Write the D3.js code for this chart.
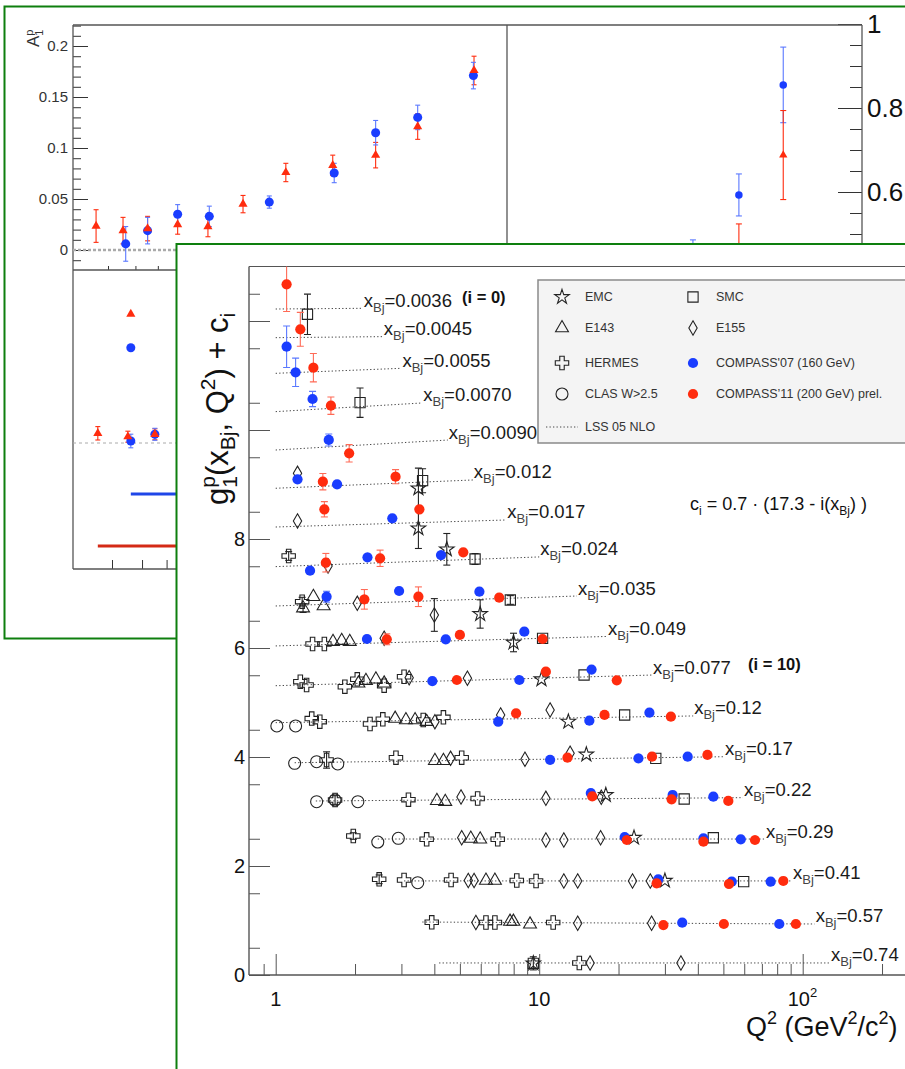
<!DOCTYPE html>
<html>
<head>
<meta charset="utf-8">
<script src="https://cdn.jsdelivr.net/npm/d3@7"></script>
<style>
  body { margin: 0; background: #fff; }
  svg { display: block; }
  text { font-family: "Liberation Sans", Arial, Helvetica, sans-serif; }
</style>
</head>
<body>
<script>
// ---------------- A1p slide (background) ----------------
const a1XRed = [0.00363, 0.00452, 0.00552, 0.00705, 0.00902, 0.0120, 0.0170, 0.0249, 0.0353, 0.0497, 0.0786];
const a1Red = [0.0235, 0.019, 0.021, 0.025, 0.023, 0.045, 0.076, 0.083, 0.093, 0.121, 0.176];
const a1RedErr = [0.016, 0.013, 0.012, 0.0095, 0.010, 0.0085, 0.009, 0.010, 0.0125, 0.0125, 0.014];
const a1XBlue = [0.00462, 0.00552, 0.00705, 0.00912, 0.01486, 0.0252, 0.0353, 0.0497, 0.0782];
const a1Blue = [0.006, 0.019, 0.035, 0.033, 0.047, 0.0755, 0.115, 0.130, 0.171];
const a1BlueErr = [0.017, 0.013, 0.0095, 0.010, 0.006, 0.0095, 0.012, 0.012, 0.013];
const a1Ticks = [0, 0.05, 0.1, 0.15, 0.2];

// high-x part, read on the right-hand scale
const hiXBlue = [0.6, 0.45, 0.334];
const hiBlue = [0.855, 0.593, 0.44];
const hiBlueErr = [0.09, 0.05, 0.046];
const hiXRed = [0.6, 0.45];
const hiRed = [0.688, 0.43];
const hiRedErr = [0.106, 0.094];
const hiTicks = [0.6, 0.8, 1.0];

// lower pad
const lowXRed = [0.0036, 0.0045, 0.0055];
const lowRed = [0.0097, 0.0063, 0.0087];
const lowRedErr = [0.0067, 0.0055, 0.0055];
const lowXBlue = [0.0046, 0.0055];
const lowBlue = [0.002, 0.0087];
const lowBlueErr = [0.0068, 0.006];
const lowPeakX = [0.0046];
const lowPeakRed = [0.129];
const lowPeakBlue = [0.0953];
const lowBandX = [0.0036, 0.0046];      // start of red / blue band line
const lowBandV = [-0.103, -0.051];

// ---------------- g1p world data (foreground) ----------------
const xBjLabels = ["0.0036","0.0045","0.0055","0.0070","0.0090","0.012","0.017","0.024","0.035",
                   "0.049","0.077","0.12","0.17","0.22","0.29","0.41","0.57","0.74"];
// LSS 05 NLO curve per bin: [Q2 start, Q2 end] and g1 at those ends
const lssQ2 = [[1,2.14],[1,2.55],[1,3.0],[1,3.6],[1,4.5],[1,5.6],[1,7.5],[1,10.0],[1,13.9],[1,18.1],
               [1,26.8],[1,38.4],[1.18,50.3],[1.42,59.3],[2.44,71.9],[3.07,91.1],[3.6,111],[4.17,127]];
const lssG1 = [[0.11,0.123],[0.284,0.303],[0.33,0.422],[0.327,0.486],[0.323,0.506],[0.321,0.473],
               [0.31,0.439],[0.283,0.461],[0.261,0.444],[0.228,0.402],[0.198,0.394],[0.22,0.343],
               [0.185,0.295],[0.183,0.244],[0.185,0.185],[0.116,0.116],[0.062,0.026],[0.011,0.011]];

// points: [bin index i, Q2, g1, stat. error]
const compass11 = [[0,1.10,0.564,0.50],[1,1.24,0.438,0.31],[2,1.39,0.433,0.26],[3,1.62,0.436,0.16],
  [4,1.90,0.262,0.16],[5,1.51,0.441,0.15],[5,2.85,0.533,0.13],[6,1.53,0.635,0.14],[6,3.51,0.635,0.05],
  [7,1.55,0.355,0.17],[7,2.49,0.436,0.15],[7,5.15,0.546,0],[8,2.17,0.383,0.18],[8,3.48,0.431,0.18],
  [8,7.05,0.413,0],[9,2.64,0.35,0.1],[9,5.0,0.429,0],[9,10.3,0.355,0],[10,4.87,0.303,0],[10,10.6,0.455,0],
  [10,19.7,0.297,0],[11,8.17,0.392,0],[11,17.7,0.361,0],[11,31.6,0.329,0],[12,12.8,0.277,0],
  [12,26.8,0.296,0],[12,43.5,0.327,0],[13,15.9,0.267,0],[13,31.8,0.214,0],[13,52.2,0.183,0],
  [14,21.5,0.167,0],[14,42,0.136,0],[14,65.9,0.167,0],[15,27.9,0.073,0],[15,52.5,0.06,0],
  [15,84.4,0.115,0],[16,29.6,0.007,0],[16,50.2,0.026,0],[16,94.2,0.026,0]];
const compass07 = [[1,1.10,0.118,0.38],[2,1.19,0.349,0.26],[3,1.38,0.559,0.14],[4,1.59,0.507,0.11],
  [5,1.21,0.485,0.05],[5,1.71,0.394,0],[6,2.77,0.47,0],[7,1.35,0.208,0.05],[7,2.23,0.454,0],
  [7,4.24,0.496,0],[8,1.56,0.431,0.1],[8,2.94,0.536,0],[8,5.93,0.523,0],[9,2.22,0.355,0],
  [9,4.42,0.35,0],[9,8.78,0.489,0],[10,3.93,0.284,0],[10,8.41,0.303,0],[10,15.8,0.494,0],
  [11,6.99,0.238,0],[11,15.5,0.256,0],[11,26.2,0.403,0],[12,11.0,0.239,0],[12,23.8,0.266,0],
  [12,36.6,0.296,0],[13,15.7,0.329,0],[13,32.1,0.293,0],[13,45.8,0.262,0],[14,21.1,0.222,0],
  [14,42,0.198,0],[14,58.2,0.18,0],[15,28.3,0.146,0],[15,53.8,0.102,0],[15,75.6,0.102,0],
  [16,34.9,0.05,0],[16,81.5,0.026,0]];
const emc = [[5,3.48,0.32,0.37],[6,3.48,0.286,0.37],[7,4.46,0.601,0.29],[8,5.97,0.114,0.26],
  [9,7.99,0.291,0.17],[10,10.2,0.316,0],[11,12.9,0.238,0],[12,15.1,0.336,0],[13,17.9,0.293,0],
  [14,22.9,0.209,0],[15,30.0,0.12,0],[17,9.5,0.004,0]];
const smc = [[0,1.32,0.013,0.37],[3,2.09,0.491,0.27],[5,3.61,0.46,0.22],[7,5.71,0.423,0.1],
  [8,7.77,0.371,0.08],[9,10.3,0.368,0],[10,14.8,0.395,0],[11,21.1,0.361,0],[12,27.7,0.266,0],
  [13,35.5,0.219,0],[14,45.8,0.209,0],[15,59.7,0.102,0],[17,9.5,0.004,0.12]];
const e143 = [[8,1.27,0.222,0.08],[8,1.39,0.431,0],[8,1.52,0.261,0],[9,1.65,0.306,0],[9,1.78,0.324,0],
  [9,1.91,0.306,0],[10,2.06,0.242,0],[10,2.20,0.29,0],[10,2.40,0.316,0],[10,2.58,0.242,0],
  [11,2.84,0.295,0],[11,3.12,0.269,0],[11,3.38,0.269,0],[11,3.74,0.238,0],[12,4.02,0.222,0],
  [12,4.33,0.222,0],[13,4.09,0.188,0],[13,4.40,0.17,0],[14,5.5,0.195,0],[14,5.97,0.18,0],
  [15,6.28,0.124,0],[15,6.79,0.124,0],[16,7.75,0.07,0],[16,7.98,0.07,0],[16,9.23,0.02,0]];
const e155 = [[5,1.21,0.595,0],[6,1.21,0.42,0],[7,1.58,0.295,0],[8,2.04,0.31,0],[8,4.0,0.096,0.3],
  [9,2.58,0.369,0],[10,3.21,0.345,0],[10,5.34,0.334,0],[11,4.02,0.238,0],[11,7.14,0.361,0],
  [11,11.0,0.452,0],[12,4.61,0.266,0],[12,8.83,0.248,0],[12,13.1,0.358,0],[13,5.05,0.256,0],
  [13,10.6,0.232,0],[13,17.2,0.251,0],[14,5.08,0.209,0],[14,10.6,0.167,0],[14,12.4,0.167,0],
  [14,17.1,0.209,0],[15,5.38,0.124,0],[15,5.66,0.124,0],[15,12.4,0.115,0],[15,14.0,0.115,0],
  [15,22.6,0.115,0],[15,26.4,0.115,0],[16,5.75,0.053,0],[16,14.0,0.039,0],[16,26.7,0.039,0],
  [17,15.6,0.01,0],[17,34.5,0.01,0]];
const hermes = [[7,1.12,0.478,0.08],[8,1.26,0.34,0.08],[9,1.38,0.263,0],[9,1.53,0.263,0],
  [10,1.24,0.272,0],[10,1.31,0.211,0],[10,1.83,0.18,0],[10,2.04,0.316,0],[10,2.58,0.198,0],
  [10,3.07,0.363,0],[11,1.37,0.295,0],[11,1.47,0.238,0],[11,2.28,0.196,0],[11,2.55,0.282,0],
  [11,3.63,0.269,0],[11,4.33,0.318,0],[12,1.56,0.235,0.15],[12,2.86,0.277,0],[12,5.08,0.277,0],
  [13,1.68,0.201,0.08],[13,3.19,0.207,0],[13,5.84,0.229,0],[14,1.97,0.24,0.06],[14,3.74,0.18,0],
  [14,6.96,0.18,0],[15,2.47,0.146,0.08],[15,3.07,0.133,0],[15,4.63,0.133,0],[15,8.22,0.124,0],
  [15,9.73,0.115,0],[16,3.91,0.057,0],[16,6.28,0.053,0],[16,6.79,0.053,0],[16,11.3,0.053,0],
  [17,14.2,0.01,0]];
const clas = [[11,1.01,0.159,0],[11,1.19,0.159,0],[12,1.18,0.174,0],[12,1.43,0.204,0],[12,1.72,0.162,0],
  [13,1.43,0.17,0],[13,1.68,0.201,0],[13,2.05,0.17,0],[14,2.44,0.13,0],[14,2.92,0.198,0],[15,3.46,0.084,0]];

const xTickMajor = [1, 10, 100];
const yTickLabels = [0, 2, 4, 6, 8];

// ---------------- styling ----------------
const GREEN = "#0e7f0e";
const BLUE = "#1a3dff", RED = "#ff2c0e";
const BLUE_ERR = "#5a78ff", RED_ERR = "#ff6a56";
const INK = "#222";
const FRAME = "#555";

const svg = d3.select("body").append("svg").attr("width", 905).attr("height", 1069);

function line(g, x1, y1, x2, y2, color, w, dash) {
  const l = g.append("line").attr("x1", x1).attr("y1", y1).attr("x2", x2).attr("y2", y2)
    .attr("stroke", color).attr("stroke-width", w);
  if (dash) l.attr("stroke-dasharray", dash);
  return l;
}
function errBar(g, x, y0, y1, color, cap, w) {
  line(g, x, y0, x, y1, color, w || 1.1);
  line(g, x - cap, y0, x + cap, y0, color, w || 1.1);
  line(g, x - cap, y1, x + cap, y1, color, w || 1.1);
}
function cleanAxis(g, color) {
  g.select(".domain").remove();
  g.selectAll(".tick line").attr("stroke", color);
  g.attr("font-size", null).attr("font-family", null);
}

// =============== background slide ===============
const back = svg.append("g");
back.append("rect").attr("x", 4.5).attr("y", 6.5).attr("width", 940).attr("height", 632)
  .attr("fill", "#fff").attr("stroke", GREEN).attr("stroke-width", 2);

// scales of the three pads
const xA = d3.scaleLog().domain([0.004, 0.04]).range([108, 391]);
const yA = d3.scaleLinear().domain([-0.0196, 0.2206]).range([270, 25]);
const xB = d3.scaleLog().domain([0.1, 1]).range([507, 862]);
const yB = d3.scaleLinear().domain([0.4143, 1.0]).range([270, 24]);
const xC = d3.scaleLog().domain([0.004, 0.04]).range([112, 422]);
const yC = d3.scaleLinear().domain([-0.126, 0.173]).range([569, 270]);

back.append("clipPath").attr("id", "clipA").append("rect").attr("x", 73).attr("y", 25).attr("width", 434).attr("height", 245);
back.append("clipPath").attr("id", "clipB").append("rect").attr("x", 507).attr("y", 25).attr("width", 355).attr("height", 245);
back.append("clipPath").attr("id", "clipC").append("rect").attr("x", 73).attr("y", 270).attr("width", 434).attr("height", 299);

// A1 axis (left)
back.append("g").attr("transform", "translate(73,0)")
  .call(d3.axisLeft(yA).tickValues(d3.range(-1, 23).map(i => i / 100)).tickSize(-8).tickFormat(""))
  .call(g => cleanAxis(g, "#333"));
back.append("g").attr("transform", "translate(73,0)")
  .call(d3.axisLeft(yA).tickValues(a1Ticks).tickSize(-15).tickPadding(5).tickFormat(d => d3.format("~g")(d)))
  .call(g => cleanAxis(g, "#333"))
  .call(g => g.selectAll("text").attr("font-size", 15).attr("fill", "#333"));
// bottom ticks of upper and lower pads
back.append("g").attr("transform", "translate(0,270)")
  .call(d3.axisBottom(xA).tickValues([0.004, 0.005, 0.006, 0.007, 0.008, 0.009, 0.01, 0.02, 0.03]).tickSize(-4).tickFormat(""))
  .call(g => cleanAxis(g, "#333"));
back.append("g").attr("transform", "translate(0,569)")
  .call(d3.axisBottom(xC).tickValues([0.004, 0.005, 0.006, 0.007, 0.008, 0.009, 0.01, 0.02]).tickSize(-9).tickFormat(""))
  .call(g => cleanAxis(g, "#333"));
// right-hand axis of the high-x pad
back.append("g").attr("transform", "translate(862,0)")
  .call(d3.axisRight(yB).tickValues(d3.range(9, 21).map(i => i * 0.05)).tickSize(-12).tickFormat(""))
  .call(g => cleanAxis(g, "#333"));
back.append("g").attr("transform", "translate(862,0)")
  .call(d3.axisRight(yB).tickValues(hiTicks).tickSize(-24).tickPadding(5).tickFormat(d => d3.format("~g")(d)))
  .call(g => cleanAxis(g, "#333"))
  .call(g => g.selectAll("text").attr("font-size", 26).attr("fill", "#111"));

// frames
line(back, 73, 25, 862, 25, FRAME, 1.3);
line(back, 73, 25, 73, 569, FRAME, 1.3);
line(back, 73, 270, 507, 270, FRAME, 1.3);
line(back, 507, 25, 507, 270, FRAME, 1.3);
line(back, 862, 25, 862, 270, FRAME, 1.3);
line(back, 73, 569, 507, 569, FRAME, 1.3);

// A1 title
const a1t = back.append("text").attr("transform", "translate(39,47) rotate(-90)").attr("font-size", 17).attr("fill", "#333");
a1t.append("tspan").text("A");
a1t.append("tspan").attr("font-size", 11).attr("dy", -6).text("p");
a1t.append("tspan").attr("font-size", 11).attr("dx", -6.1).attr("dy", 10).text("1");

// zero line
const pA = back.append("g").attr("clip-path", "url(#clipA)");
line(pA, 73, yA(0), 507, yA(0), "#aaa", 2.5, "3,2");
const triA = d3.symbol(d3.symbolTriangle, 36)();
const dotA = d3.symbol(d3.symbolCircle, 64)();
a1XRed.forEach((x, i) => errBar(pA, xA(x), yA(a1Red[i] - a1RedErr[i]), yA(a1Red[i] + a1RedErr[i]), RED, 2.5));
a1XBlue.forEach((x, i) => errBar(pA, xA(x), yA(a1Blue[i] - a1BlueErr[i]), yA(a1Blue[i] + a1BlueErr[i]), BLUE_ERR, 2.5));
pA.selectAll(".a1b").data(a1XBlue).join("path").attr("d", dotA).attr("fill", BLUE)
  .attr("transform", (x, i) => `translate(${xA(x)},${yA(a1Blue[i])})`);
pA.selectAll(".a1r").data(a1XRed).join("path").attr("d", triA).attr("fill", RED)
  .attr("transform", (x, i) => `translate(${xA(x)},${yA(a1Red[i])})`);

const pB = back.append("g").attr("clip-path", "url(#clipB)");
hiXBlue.forEach((x, i) => errBar(pB, xB(x), yB(hiBlue[i] - hiBlueErr[i]), yB(hiBlue[i] + hiBlueErr[i]), BLUE_ERR, 3));
hiXRed.forEach((x, i) => errBar(pB, xB(x), yB(hiRed[i] - hiRedErr[i]), yB(hiRed[i] + hiRedErr[i]), RED, 3));
pB.selectAll(".hb").data(hiXBlue).join("path").attr("d", d3.symbol(d3.symbolCircle, 44)()).attr("fill", BLUE)
  .attr("transform", (x, i) => `translate(${xB(x)},${yB(hiBlue[i])})`);
pB.selectAll(".hr").data(hiXRed).join("path").attr("d", d3.symbol(d3.symbolTriangle, 30)()).attr("fill", RED)
  .attr("transform", (x, i) => `translate(${xB(x)},${yB(hiRed[i])})`);

const pC = back.append("g").attr("clip-path", "url(#clipC)");
line(pC, 73, yC(0), 507, yC(0), "#aaa", 1, "3,3");
line(pC, xC(lowBandX[0]), yC(lowBandV[0]), 507, yC(lowBandV[0]), "#d42a16", 3);
line(pC, xC(lowBandX[1]), yC(lowBandV[1]), 507, yC(lowBandV[1]), "#1f46e8", 3);
lowXRed.forEach((x, i) => errBar(pC, xC(x), yC(lowRed[i] - lowRedErr[i]), yC(lowRed[i] + lowRedErr[i]), RED, 2.5));
lowXBlue.forEach((x, i) => errBar(pC, xC(x), yC(lowBlue[i] - lowBlueErr[i]), yC(lowBlue[i] + lowBlueErr[i]), BLUE_ERR, 2.5));
pC.selectAll(".lb").data(lowXBlue).join("path").attr("d", dotA).attr("fill", BLUE)
  .attr("transform", (x, i) => `translate(${xC(x)},${yC(lowBlue[i])})`);
pC.selectAll(".lr").data(lowXRed).join("path").attr("d", triA).attr("fill", RED)
  .attr("transform", (x, i) => `translate(${xC(x)},${yC(lowRed[i])})`);
pC.selectAll(".pb").data(lowPeakX).join("path").attr("d", dotA).attr("fill", BLUE)
  .attr("transform", (x, i) => `translate(${xC(x)},${yC(lowPeakBlue[i])})`);
pC.selectAll(".pr").data(lowPeakX).join("path").attr("d", triA).attr("fill", RED)
  .attr("transform", (x, i) => `translate(${xC(x)},${yC(lowPeakRed[i])})`);

// =============== foreground slide: g1p world data ===============
const front = svg.append("g");
front.append("rect").attr("x", 176.5).attr("y", 244).attr("width", 800).attr("height", 900)
  .attr("fill", "#fff").attr("stroke", GREEN).attr("stroke-width", 2);

const x = d3.scaleLog().domain([1, 100]).range([275.7, 802.7]);
const y = d3.scaleLinear().domain([0, 13]).range([975, 266.5]);
const ci = i => 0.7 * (17.3 - i);

front.append("clipPath").attr("id", "clipM").append("rect").attr("x", 249).attr("y", 266.5).attr("width", 700).attr("height", 708.5);

// axes
front.append("g").attr("transform", "translate(0,975)")
  .call(d3.axisBottom(x).tickValues([0.9, 2, 3, 4, 5, 6, 7, 8, 9, 20, 30, 40, 50, 60, 70, 80, 90, 200]).tickSize(-11).tickFormat(""))
  .call(g => cleanAxis(g, FRAME));
front.append("g").attr("transform", "translate(0,975)")
  .call(d3.axisBottom(x).tickValues(xTickMajor).tickSize(-21).tickFormat(""))
  .call(g => cleanAxis(g, FRAME));
front.append("g").attr("transform", "translate(249,0)")
  .call(d3.axisLeft(y).tickValues(d3.range(1, 26, 2).map(v => v / 2)).tickSize(-11).tickFormat(""))
  .call(g => cleanAxis(g, FRAME));
front.append("g").attr("transform", "translate(249,0)")
  .call(d3.axisLeft(y).tickValues(d3.range(0, 13, 2)).tickSize(-21).tickPadding(4)
    .tickFormat(d => yTickLabels.includes(d) ? d : ""))
  .call(g => cleanAxis(g, FRAME))
  .call(g => g.selectAll("text").attr("font-size", 20).attr("fill", "#111"));
line(front, 249, 266.5, 249, 975, FRAME, 1.4);
line(front, 249, 975, 905, 975, FRAME, 1.4);
line(front, 249, 266.5, 905, 266.5, FRAME, 1.2);

// x tick labels
front.append("text").attr("x", x(1)).attr("y", 1006).attr("text-anchor", "middle").attr("font-size", 20).attr("fill", "#111").text("1");
front.append("text").attr("x", x(10)).attr("y", 1006).attr("text-anchor", "middle").attr("font-size", 20).attr("fill", "#111").text("10");
const t100 = front.append("text").attr("x", x(100) - 15).attr("y", 1006).attr("font-size", 20).attr("fill", "#111");
t100.append("tspan").text("10");
t100.append("tspan").attr("font-size", 13).attr("dy", -9).text("2");

// axis titles
const xt = front.append("text").attr("x", 746).attr("y", 1036).attr("font-size", 27).attr("fill", "#111");
xt.append("tspan").text("Q");
xt.append("tspan").attr("font-size", 18).attr("dy", -12).text("2");
xt.append("tspan").attr("dy", 12).text(" (GeV");
xt.append("tspan").attr("font-size", 18).attr("dy", -12).text("2");
xt.append("tspan").attr("dy", 12).text("/c");
xt.append("tspan").attr("font-size", 18).attr("dy", -12).text("2");
xt.append("tspan").attr("dy", 12).text(")");

const yt = front.append("text").attr("transform", "translate(228,505) rotate(-90)").attr("font-size", 31).attr("fill", "#111");
yt.append("tspan").text("g");
yt.append("tspan").attr("font-size", 21).attr("dy", -13).text("p");
yt.append("tspan").attr("font-size", 21).attr("dx", -11.7).attr("dy", 22).text("1");
yt.append("tspan").attr("dy", -9).text("(x");
yt.append("tspan").attr("font-size", 21).attr("dy", 7).text("Bj");
yt.append("tspan").attr("dy", -7).text(", Q");
yt.append("tspan").attr("font-size", 21).attr("dy", -13).text("2");
yt.append("tspan").attr("dy", 13).text(") + c");
yt.append("tspan").attr("font-size", 21).attr("dy", 7).text("i");

// LSS curves and bin labels
const plot = front.append("g").attr("clip-path", "url(#clipM)");
lssQ2.forEach((q, i) => {
  const g1 = lssG1[i];
  line(plot, x(q[0]), y(ci(i) + g1[0]), x(q[1]), y(ci(i) + g1[1]), "#444", 1, "1.3,2.2");
  const lt = front.append("text").attr("x", x(q[1]) + 1).attr("y", y(ci(i) + g1[1]) - 1.5)
    .attr("font-size", 18.5).attr("fill", "#1a1a1a");
  lt.append("tspan").text("x");
  lt.append("tspan").attr("font-size", 13).attr("dy", 5).attr("fill", "#444").text("Bj");
  lt.append("tspan").attr("dy", -5).text("=" + xBjLabels[i]);
});
front.append("text").attr("x", 462).attr("y", 302.7).attr("font-family", "'Liberation Serif', 'Times New Roman', serif")
  .attr("font-weight", "bold").attr("font-size", 16.5).attr("fill", "#111").text("(i = 0)");
front.append("text").attr("x", 748).attr("y", 670).attr("font-family", "'Liberation Serif', 'Times New Roman', serif")
  .attr("font-weight", "bold").attr("font-size", 16.5).attr("fill", "#111").text("(i = 10)");

const ct = front.append("text").attr("x", 690).attr("y", 510).attr("font-size", 18).attr("fill", "#111");
ct.append("tspan").text("c");
ct.append("tspan").attr("font-size", 12).attr("dy", 5).text("i");
ct.append("tspan").attr("dy", -5).text(" = 0.7 · (17.3 - i(x");
ct.append("tspan").attr("font-size", 12).attr("dy", 5).text("Bj");
ct.append("tspan").attr("dy", -5).text(") )");

// data markers
const sym = {
  star: d3.symbol(d3.symbolStar, 66)(),
  square: d3.symbol(d3.symbolSquare, 105)(),
  tri: d3.symbol(d3.symbolTriangle, 72)(),
  diamond: d3.symbol(d3.symbolDiamond, 60)(),
  cross: d3.symbol(d3.symbolCross, 100)(),
  circle: d3.symbol(d3.symbolCircle, 113)(),
  dot: d3.symbol(d3.symbolCircle, 82)()
};
function series(data, shape, fill, stroke, errColor) {
  const g = plot.append("g");
  data.filter(d => d[3] > 0).forEach(d => {
    const v = ci(d[0]) + d[2];
    errBar(g, x(d[1]), y(v - d[3]), y(v + d[3]), errColor, 3.5);
  });
  g.selectAll("path.m").data(data).join("path").attr("class", "m")
    .attr("d", sym[shape])
    .attr("transform", d => `translate(${x(d[1])},${y(ci(d[0]) + d[2])})`)
    .attr("fill", fill).attr("stroke", stroke).attr("stroke-width", stroke === "none" ? 0 : 1.1);
}
series(clas, "circle", "none", INK, INK);
series(hermes, "cross", "none", INK, INK);
series(e143, "tri", "none", INK, INK);
series(e155, "diamond", "none", INK, INK);
series(smc, "square", "none", INK, INK);
series(emc, "star", "none", INK, INK);
series(compass07, "dot", BLUE, "none", BLUE_ERR);
series(compass11, "dot", RED, "none", RED_ERR);

// legend
const lg = front.append("g");
lg.append("rect").attr("x", 538).attr("y", 280).attr("width", 420).attr("height", 163)
  .attr("fill", "#f4f4f4").attr("stroke", "#8a8a8a").attr("stroke-width", 1.5);
const legendItems = [
  ["star", "EMC", 562, 297, "none", INK], ["square", "SMC", 693, 297, "none", INK],
  ["tri", "E143", 562, 328, "none", INK], ["diamond", "E155", 693, 328, "none", INK],
  ["cross", "HERMES", 562, 363, "none", INK], ["dot", "COMPASS'07 (160 GeV)", 693, 363, BLUE, "none"],
  ["circle", "CLAS W>2.5", 562, 394, "none", INK], ["dot", "COMPASS\u201911 (200 GeV) prel.", 693, 394, RED, "none"]
];
legendItems.forEach(([s, label, lx, ly, fill, stroke]) => {
  lg.append("path").attr("d", sym[s]).attr("transform", `translate(${lx},${ly})`)
    .attr("fill", fill).attr("stroke", stroke).attr("stroke-width", stroke === "none" ? 0 : 1.1);
  lg.append("text").attr("x", lx + 23).attr("y", ly).attr("dy", "0.35em").attr("font-size", 12.5)
    .attr("fill", "#333").text(label);
});
line(lg, 546, 427, 578, 427, "#444", 1, "1.3,2.2");
lg.append("text").attr("x", 585).attr("y", 427).attr("dy", "0.35em").attr("font-size", 12.5).attr("fill", "#333").text("LSS 05 NLO");
</script>
</body>
</html>
